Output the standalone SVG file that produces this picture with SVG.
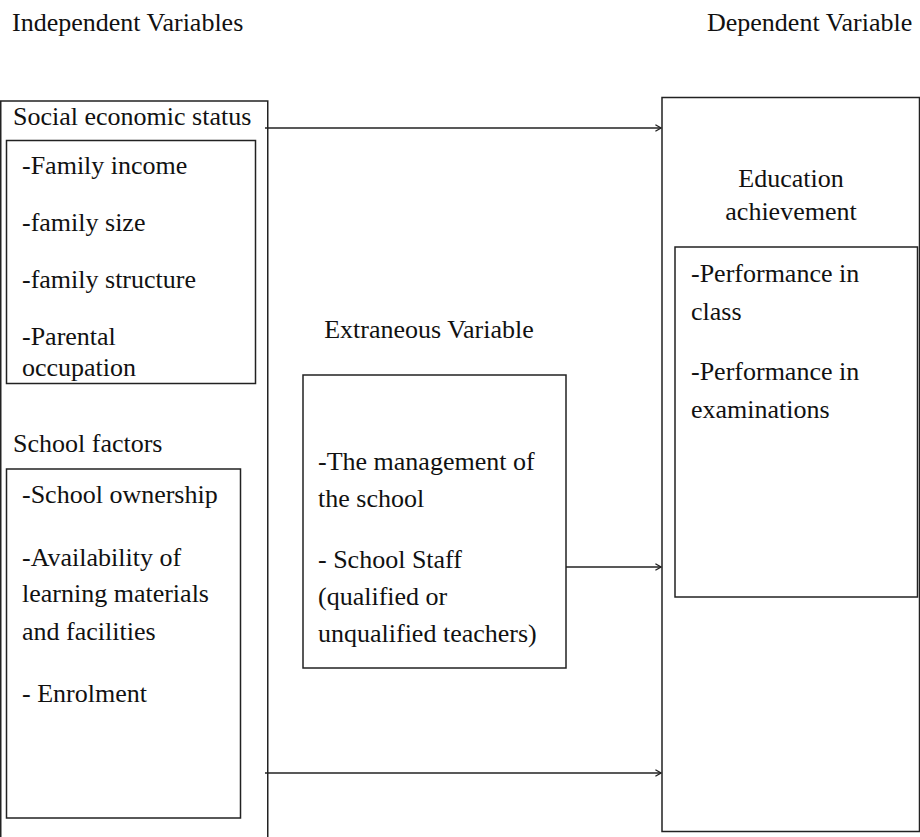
<svg xmlns="http://www.w3.org/2000/svg" width="920" height="837" viewBox="0 0 920 837">
<style>
text{font-family:'Liberation Serif','Times New Roman',serif;font-size:26px;fill:#111}
.box{fill:none;stroke:#222;stroke-width:1.5}
.conn{fill:none;stroke:#222;stroke-width:1.5}
.mid{text-anchor:middle}
</style>
<defs>
<marker id="arr" viewBox="0 0 10 10" refX="9" refY="5" markerWidth="8" markerHeight="8" markerUnits="userSpaceOnUse" orient="auto">
<path d="M2,1 L9,5 L2,9" fill="none" stroke="#222" stroke-width="1.6"/>
</marker>
</defs>
<g id="headers">
<text x="12" y="31">Independent Variables</text>
<text x="707" y="31">Dependent Variable</text>
</g>
<g id="independent">
<rect class="box" x="0.75" y="101" width="267" height="750"/>
<text x="13" y="125">Social economic status</text>
<g id="ses">
<rect class="box" x="6.5" y="140.5" width="249" height="243"/>
<text x="22" y="174">-Family income</text>
<text x="22" y="231">-family size</text>
<text x="22" y="288">-family structure</text>
<text x="22" y="345">-Parental</text>
<text x="22" y="376">occupation</text>
</g>
<text x="13" y="452">School factors</text>
<g id="school">
<rect class="box" x="6.5" y="469" width="234" height="349"/>
<text x="22" y="503">-School ownership</text>
<text x="22" y="566">-Availability of</text>
<text x="22" y="602">learning materials</text>
<text x="22" y="640">and facilities</text>
<text x="22" y="702">- Enrolment</text>
</g>
</g>
<g id="extraneous">
<text x="429" y="338" class="mid">Extraneous Variable</text>
<rect class="box" x="303" y="375" width="263" height="293"/>
<text x="318" y="470">-The management of</text>
<text x="318" y="507">the school</text>
<text x="318" y="568">- School Staff</text>
<text x="318" y="605">(qualified or</text>
<text x="318" y="642">unqualified teachers)</text>
</g>
<g id="dependent">
<rect class="box" x="662" y="97.5" width="257.5" height="734"/>
<text x="791" y="187" class="mid">Education</text>
<text x="791" y="220" class="mid">achievement</text>
<rect class="box" x="675" y="247" width="242.5" height="350"/>
<text x="691" y="282">-Performance in</text>
<text x="691" y="320">class</text>
<text x="691" y="380">-Performance in</text>
<text x="691" y="418">examinations</text>
</g>
<g id="connectors">
<line class="conn" x1="265" y1="128" x2="661" y2="128" marker-end="url(#arr)"/>
<line class="conn" x1="566" y1="567" x2="661" y2="567" marker-end="url(#arr)"/>
<line class="conn" x1="265" y1="773" x2="661" y2="773" marker-end="url(#arr)"/>
</g>
</svg>
